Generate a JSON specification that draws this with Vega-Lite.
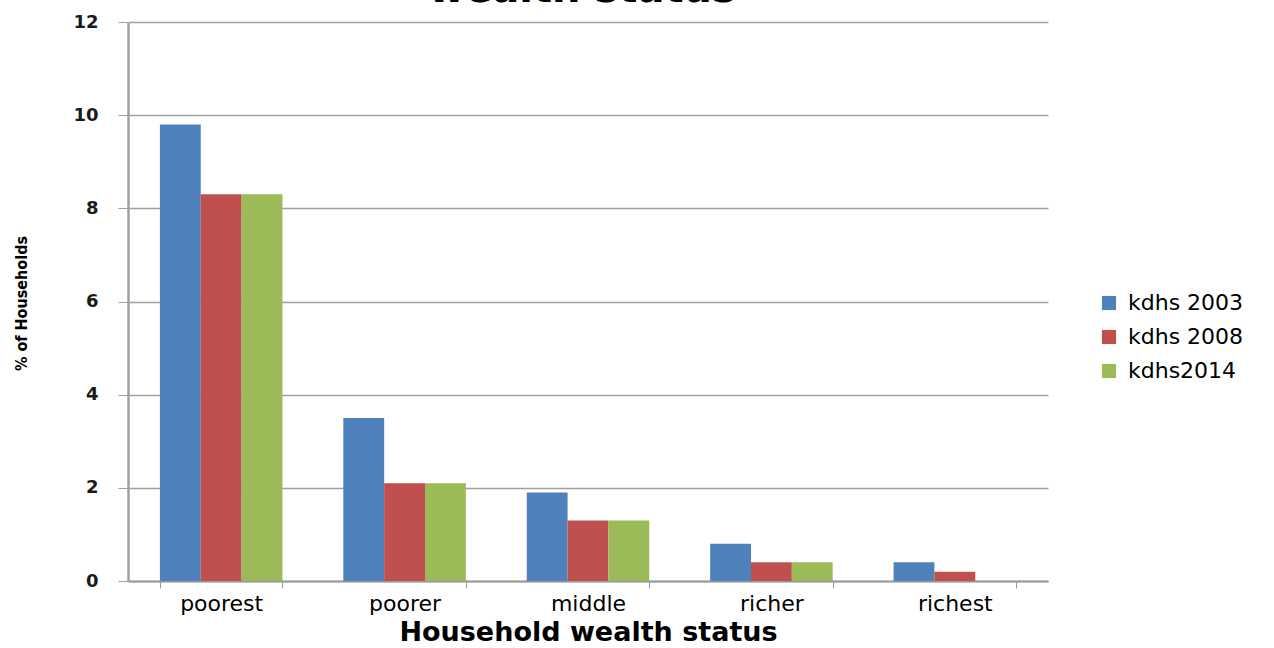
{
  "$schema": "https://vega.github.io/schema/vega-lite/v6.json",
  "width": 920,
  "height": 559,
  "autosize": {"type": "none"},
  "padding": {"left": 128, "top": 22, "right": 226, "bottom": 67},
  "background": "white",
  "title": {
    "text": "wealth status",
    "font": "DejaVu Sans",
    "fontSize": 40,
    "fontWeight": "bold",
    "color": "#000000",
    "anchor": "middle",
    "frame": "group",
    "baseline": "alphabetic",
    "offset": 0,
    "dx": -6,
    "dy": 29
  },
  "data": {
    "values": [
      {"status": "poorest", "survey": "kdhs 2003", "pct": 9.8},
      {"status": "poorest", "survey": "kdhs 2008", "pct": 8.3},
      {"status": "poorest", "survey": "kdhs2014", "pct": 8.3},
      {"status": "poorer", "survey": "kdhs 2003", "pct": 3.5},
      {"status": "poorer", "survey": "kdhs 2008", "pct": 2.1},
      {"status": "poorer", "survey": "kdhs2014", "pct": 2.1},
      {"status": "middle", "survey": "kdhs 2003", "pct": 1.9},
      {"status": "middle", "survey": "kdhs 2008", "pct": 1.3},
      {"status": "middle", "survey": "kdhs2014", "pct": 1.3},
      {"status": "richer", "survey": "kdhs 2003", "pct": 0.8},
      {"status": "richer", "survey": "kdhs 2008", "pct": 0.4},
      {"status": "richer", "survey": "kdhs2014", "pct": 0.4},
      {"status": "richest", "survey": "kdhs 2003", "pct": 0.4},
      {"status": "richest", "survey": "kdhs 2008", "pct": 0.2},
      {"status": "richest", "survey": "kdhs2014", "pct": 0}
    ]
  },
  "mark": {"type": "bar"},
  "encoding": {
    "x": {
      "field": "status",
      "type": "nominal",
      "sort": ["poorest", "poorer", "middle", "richer", "richest"],
      "scale": {"paddingInner": 0.332, "paddingOuter": 0.174},
      "axis": {
        "title": "Household wealth status",
        "labelAngle": 0,
        "labelFont": "DejaVu Sans",
        "labelFontSize": 22,
        "labelColor": "#000000",
        "labelPadding": 5,
        "tickBand": "extent",
        "tickSize": 7,
        "tickColor": "#999999",
        "domainColor": "#999999",
        "domainWidth": 2,
        "titleFont": "DejaVu Sans",
        "titleFontSize": 27,
        "titleFontWeight": "bold",
        "titleColor": "#000000",
        "titlePadding": 5
      }
    },
    "xOffset": {
      "field": "survey",
      "type": "nominal",
      "sort": ["kdhs 2003", "kdhs 2008", "kdhs2014"]
    },
    "y": {
      "field": "pct",
      "type": "quantitative",
      "scale": {"domain": [0, 12]},
      "axis": {
        "title": "% of Households",
        "values": [0, 2, 4, 6, 8, 10, 12],
        "grid": true,
        "gridColor": "#A0A0A0",
        "gridWidth": 1.5,
        "domainColor": "#A0A0A0",
        "domainWidth": 2.5,
        "tickColor": "#A0A0A0",
        "tickSize": 10,
        "labelFont": "DejaVu Sans",
        "labelFontSize": 18,
        "labelFontWeight": "bold",
        "labelColor": "#1a1a1a",
        "labelPadding": 20,
        "titleFont": "DejaVu Sans Condensed",
        "titleFontSize": 16,
        "titleFontWeight": "bold",
        "titleColor": "#000000",
        "titleX": -107,
        "titleY": 281,
        "titleAngle": -90,
        "titleAlign": "center",
        "titleBaseline": "middle"
      }
    },
    "color": {
      "field": "survey",
      "type": "nominal",
      "sort": ["kdhs 2003", "kdhs 2008", "kdhs2014"],
      "scale": {
        "domain": ["kdhs 2003", "kdhs 2008", "kdhs2014"],
        "range": ["#4F81BD", "#C0504D", "#9BBB59"]
      },
      "legend": {
        "title": null,
        "orient": "none",
        "legendX": 970,
        "legendY": 270,
        "symbolType": "square",
        "symbolSize": 200,
        "symbolStrokeWidth": 0,
        "labelFont": "DejaVu Sans",
        "labelFontSize": 22,
        "labelColor": "#000000",
        "labelOffset": 8,
        "rowPadding": 12
      }
    }
  },
  "config": {
    "view": {"stroke": null},
    "bar": {"stroke": null}
  }
}
